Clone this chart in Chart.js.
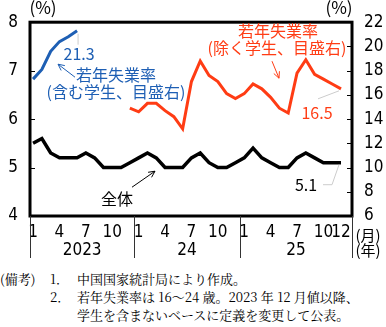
<!DOCTYPE html>
<html>
<head>
<meta charset="utf-8">
<script src="https://cdn.jsdelivr.net/npm/chart.js@4.4.1/dist/chart.umd.min.js"></script>
<style>
  html, body { margin: 0; padding: 0; background: #fff; }
  #wrap { position: relative; width: 386px; height: 327px; overflow: hidden; }
  #chart { position: absolute; left: 0; top: 0; }
  .note { position: absolute; font-family: 'Noto Serif CJK JP', 'Noto Sans CJK JP', serif; font-size: 13px; line-height: 18px; color: #000; white-space: nowrap; }
</style>
</head>
<body>
<div id="wrap">
  <canvas id="chart" width="386" height="262"></canvas>
  <div class="note" style="left:0;top:270px">(備考)</div>
  <div class="note" style="left:50px;top:270px">1．</div>
  <div class="note" style="left:77px;top:270px">中国国家統計局により作成。</div>
  <div class="note" style="left:50px;top:288px">2．</div>
  <div class="note" style="left:77px;top:288px">若年失業率は 16～24 歳。2023 年 12 月値以降、</div>
  <div class="note" style="left:77px;top:306px">学生を含まないベースに定義を変更して公表。</div>
</div>
<script>
// months Jan 2023 .. Dec 2025
const years = ['2023', '24', '25'];
const categories = years.flatMap(y => Array.from({ length: 12 }, (_, m) => y + '/' + (m + 1)));
const tickIndex = [0, 3, 6, 9, 12, 15, 18, 21, 24, 27, 30, 33, 35];

// 全体 (left axis, %)
const total = [5.5, 5.6, 5.3, 5.2, 5.2, 5.2, 5.3, 5.2, 5.0, 5.0, 5.0, 5.1,
               5.2, 5.3, 5.2, 5.0, 5.0, 5.0, 5.2, 5.3, 5.1, 5.0, 5.0, 5.1,
               5.2, 5.4, 5.2, 5.1, 5.0, 5.0, 5.2, 5.3, 5.2, 5.1, 5.1, 5.1];
// 若年失業率 含む学生 (right axis), 2023/1 - 2023/6
const youthIncl = [17.3, 18.1, 19.6, 20.4, 20.8, 21.3];
const youthInclStart = 0;
// 若年失業率 除く学生 (right axis), 2023/12 - 2025/12
const youthExcl = [14.9, 14.6, 15.3, 15.3, 14.7, 14.2, 13.2, 17.1, 18.8, 17.6, 17.1, 16.1, 15.7,
                   16.1, 16.9, 16.5, 15.8, 14.9, 14.5, 17.8, 18.9, 17.7, 17.3, 16.9, 16.5];
const youthExclStart = 11;

const BLUE = '#1e5fb4';
const RED = '#ff3c14';
const numFont = "'Liberation Sans Narrow', 'DejaVu Sans Condensed', 'Noto Sans CJK JP', sans-serif";
const jpFont = "'Noto Sans CJK JP', sans-serif";

const toXY = (arr, start) => arr.map((v, i) => ({ x: start + i, y: v }));

function arrow(ctx, x1, y1, x2, y2, color) {
  const ang = Math.atan2(y2 - y1, x2 - x1), h = 7;
  ctx.strokeStyle = color;
  ctx.lineWidth = 1;
  ctx.beginPath();
  ctx.moveTo(x1, y1); ctx.lineTo(x2, y2);
  ctx.moveTo(x2 - h * Math.cos(ang - 0.45), y2 - h * Math.sin(ang - 0.45));
  ctx.lineTo(x2, y2);
  ctx.lineTo(x2 - h * Math.cos(ang + 0.45), y2 - h * Math.sin(ang + 0.45));
  ctx.stroke();
}

function text(ctx, s, x, y, color, size) {
  ctx.fillStyle = color;
  ctx.font = size + 'px ' + jpFont;
  ctx.textAlign = 'center';
  ctx.textBaseline = 'middle';
  ctx.fillText(s, x, y);
}

const overlay = {
  id: 'overlay',
  afterDraw(chart) {
    const { ctx, chartArea: a, scales: { x, y, y2 } } = chart;
    ctx.save();
    // frame
    ctx.strokeStyle = '#000';
    ctx.lineWidth = 3;
    ctx.strokeRect(a.left, a.top, a.right - a.left, a.bottom - a.top);
    // inward tick marks
    ctx.lineWidth = 1;
    ctx.beginPath();
    [5, 6, 7].forEach(v => { const p = Math.round(y.getPixelForValue(v)) + 0.5; ctx.moveTo(a.left, p); ctx.lineTo(a.left + 5, p); });
    [8, 10, 12, 14, 16, 18, 20].forEach(v => { const p = Math.round(y2.getPixelForValue(v)) + 0.5; ctx.moveTo(a.right, p); ctx.lineTo(a.right - 5, p); });
    ctx.stroke();

    // year separators and year labels
    const edges = [a.left, x.getPixelForValue(11.5), x.getPixelForValue(23.5), a.right];
    ctx.strokeStyle = '#333';
    ctx.beginPath();
    edges.forEach(px => { const p = Math.round(px) + 0.5; ctx.moveTo(p, a.bottom); ctx.lineTo(p, a.bottom + 42); });
    ctx.stroke();
    ctx.fillStyle = '#000';
    ctx.font = '17px ' + numFont;
    ctx.textAlign = 'center';
    ctx.textBaseline = 'middle';
    years.forEach((yr, i) => ctx.fillText(yr, (edges[i] + edges[i + 1]) / 2, a.bottom + 35));

    // units
    text(ctx, '(%)', a.left + 13, 8, '#000', 17);
    text(ctx, '(%)', a.right - 13, 8, '#000', 17);
    text(ctx, '(月)', a.right + 16, a.bottom + 19, '#000', 15);
    text(ctx, '(年)', a.right + 16, a.bottom + 34, '#000', 15);

    // blue annotation
    const bx = x.getPixelForValue(youthInclStart + youthIncl.length - 1);
    const by = y2.getPixelForValue(youthIncl[youthIncl.length - 1]);
    ctx.strokeStyle = '#ccc';
    ctx.beginPath(); ctx.moveTo(bx + 1, by + 3); ctx.lineTo(bx + 1, by + 14); ctx.stroke();
    text(ctx, youthIncl[youthIncl.length - 1].toFixed(1), bx + 2, by + 23, BLUE, 16);
    arrow(ctx, a.left + 45, a.top + 55, a.left + 28, a.top + 42, BLUE);
    text(ctx, '若年失業率', a.left + 86, a.top + 53, BLUE, 16);
    text(ctx, '(含む学生、目盛右)', a.left + 86, a.top + 70, BLUE, 16);

    // red annotation
    const rx = x.getPixelForValue(youthExclStart + youthExcl.length - 1);
    const ry = y2.getPixelForValue(youthExcl[youthExcl.length - 1]);
    ctx.strokeStyle = '#ccc';
    ctx.beginPath(); ctx.moveTo(rx - 2, ry + 2); ctx.lineTo(rx - 23, ry + 10); ctx.stroke();
    text(ctx, youthExcl[youthExcl.length - 1].toFixed(1), rx - 24, ry + 24, RED, 16);
    text(ctx, '若年失業率', a.left + 248, a.top + 9, RED, 16);
    text(ctx, '(除く学生、目盛右)', a.left + 247, a.top + 26, RED, 16);
    arrow(ctx, a.left + 242, a.top + 39, a.left + 249, a.top + 56, RED);

    // black annotation
    const kx = x.getPixelForValue(total.length - 1);
    const ky = y.getPixelForValue(total[total.length - 1]);
    ctx.strokeStyle = '#ccc';
    ctx.beginPath(); ctx.moveTo(kx - 2, ky + 2); ctx.lineTo(kx - 9, ky + 22); ctx.lineTo(kx - 18, ky + 22); ctx.stroke();
    text(ctx, total[total.length - 1].toFixed(1), kx - 35, ky + 22, '#000', 16);
    text(ctx, '全体', a.left + 87, a.top + 177, '#000', 16);
    arrow(ctx, a.left + 102, a.top + 165, a.left + 125, a.top + 149, '#000');
    ctx.restore();
  }
};

new Chart(document.getElementById('chart').getContext('2d'), {
  type: 'line',
  data: {
    datasets: [
      { label: '全体', data: toXY(total, 0), yAxisID: 'y', borderColor: '#000', borderWidth: 3.5 },
      { label: '若年失業率（含む学生）', data: toXY(youthIncl, youthInclStart), yAxisID: 'y2', borderColor: BLUE, borderWidth: 3 },
      { label: '若年失業率（除く学生）', data: toXY(youthExcl, youthExclStart), yAxisID: 'y2', borderColor: RED, borderWidth: 3 }
    ]
  },
  options: {
    responsive: false,
    animation: false,
    elements: { point: { radius: 0 }, line: { tension: 0, fill: false } },
    layout: { padding: { top: 18, left: 0, right: 0, bottom: 0 } },
    plugins: { legend: { display: false }, tooltip: { enabled: false } },
    scales: {
      x: {
        type: 'linear', min: -0.35, max: 36.25,
        grid: { display: false, drawTicks: false }, border: { display: false },
        afterBuildTicks: s => { s.ticks = tickIndex.map(v => ({ value: v })); },
        afterFit: s => { s.height = 46; },
        ticks: { autoSkip: false, maxRotation: 0, padding: 6, color: '#000',
                 font: { family: numFont, size: 17 },
                 callback: v => categories[v].split('/')[1] }
      },
      y: {
        position: 'left', min: 4, max: 8,
        grid: { display: false, drawTicks: false }, border: { display: false },
        afterFit: s => { s.width = 30; },
        ticks: { stepSize: 1, padding: 12, color: '#000', font: { family: numFont, size: 17 } }
      },
      y2: {
        position: 'right', min: 6, max: 22,
        grid: { display: false, drawTicks: false }, border: { display: false },
        afterFit: s => { s.width = 34; },
        ticks: { stepSize: 2, padding: 12, color: '#000', font: { family: numFont, size: 17 } }
      }
    }
  },
  plugins: [overlay]
});
</script>
</body>
</html>
